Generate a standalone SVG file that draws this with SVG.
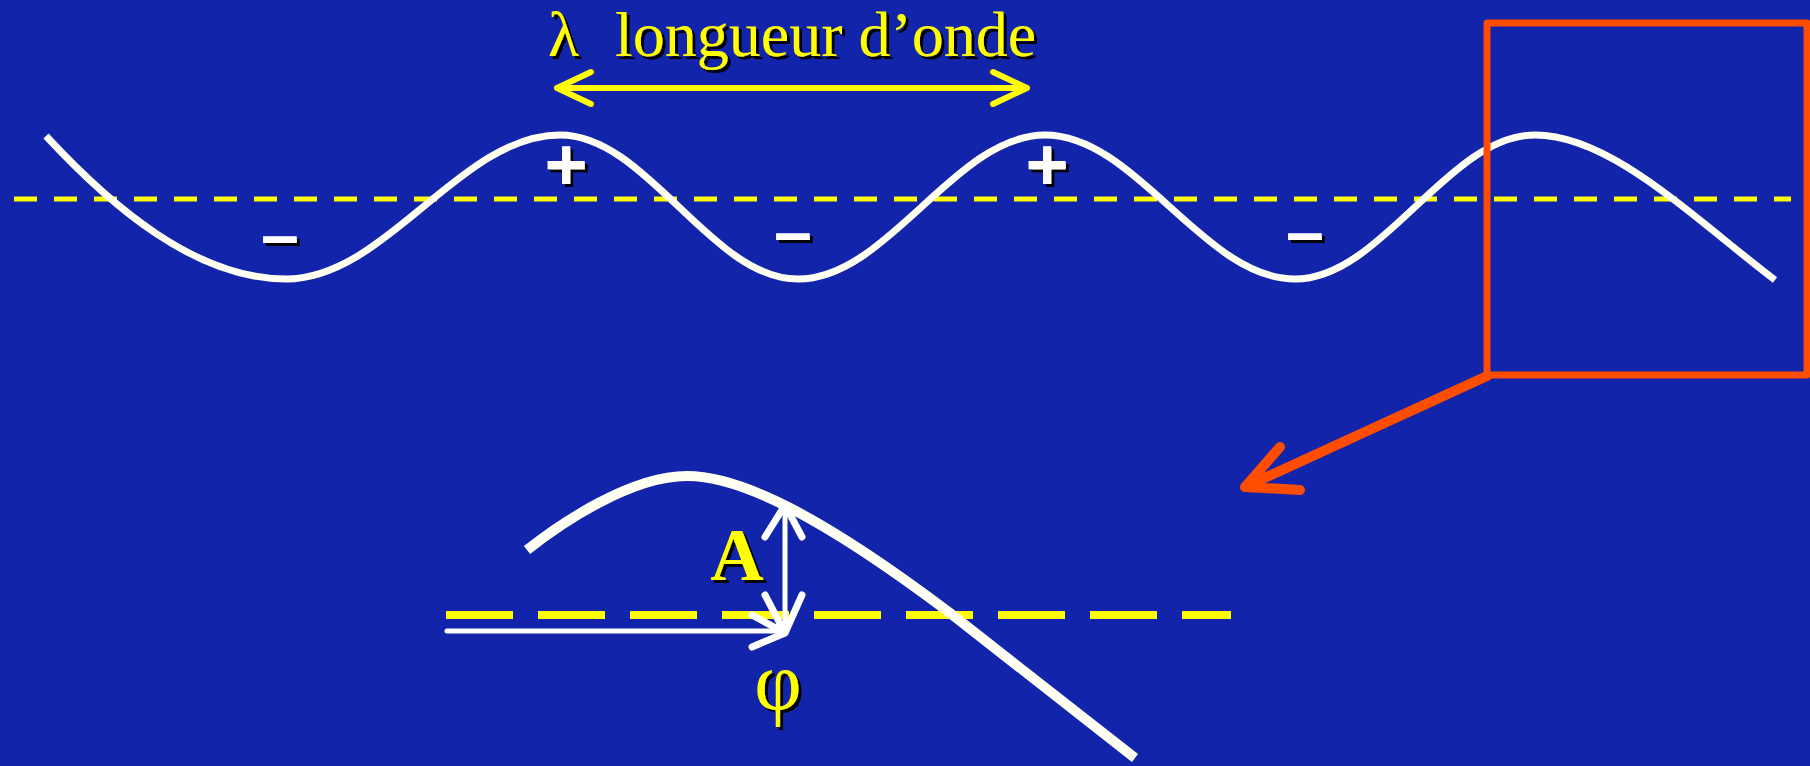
<svg xmlns="http://www.w3.org/2000/svg" width="1810" height="766" viewBox="0 0 1810 766">
<defs>
<style>
.wave{fill:none;stroke:#FFFFF4;stroke-linecap:butt;stroke-linejoin:round}
.axis{fill:none;stroke:#FFFF00}
.yarr{fill:none;stroke:#FFFF00;stroke-width:6;stroke-linecap:round;stroke-linejoin:round}
.warr{fill:none;stroke:#FFFFFF;stroke-linecap:round;stroke-linejoin:round}
.red{fill:none;stroke:#FF4D00;stroke-linecap:round;stroke-linejoin:round}
.ylab{fill:#FFFF00;font-family:"Liberation Serif","Times New Roman",serif}
.sign{fill:#FFFFFF;font-family:"Liberation Sans",Arial,sans-serif;font-weight:bold;text-anchor:middle}
</style>
<filter id="sh" x="-20%" y="-20%" width="140%" height="140%">
<feDropShadow dx="3" dy="3" stdDeviation="0" flood-color="#000000" flood-opacity="1"/>
</filter>
</defs>
<rect x="0" y="0" width="1810" height="766" fill="#1124AA"/>

<g id="top-axis">
<line class="axis" x1="14" y1="199" x2="1791" y2="199" stroke-width="5" stroke-dasharray="23 17"/>
</g>
<g id="top-wave">
<path class="wave" stroke-width="7" d="M46,136 C110,205 195,279 286,279 C386,279 460,135 560,135 C647,135 711,279 798,279 C888,279 955,135 1045,135 C1136,135 1204,279 1295,279 C1382,279 1448,135 1535,135 C1610,135 1690,215 1775,280"/>
</g>
<g id="signs" filter="url(#sh)">
<text class="sign" x="566" y="190" font-size="74">+</text>
<text class="sign" x="1047" y="190" font-size="74">+</text>
<text class="sign" x="280" y="258" font-size="68">–</text>
<text class="sign" x="793" y="255" font-size="68">–</text>
<text class="sign" x="1305" y="255" font-size="68">–</text>
</g>
<g id="wavelength-label" filter="url(#sh)">
<text class="ylab" x="548" y="56" font-size="64">λ</text>
<text class="ylab" x="615" y="56" font-size="64">longueur d’onde</text>
</g>
<g id="zoom-box">
<rect class="red" x="1487" y="23" width="320" height="352" stroke-width="7" stroke-linejoin="miter" stroke-linecap="butt"/>
</g>
<g id="detail-axis">
<line class="axis" x1="446" y1="615" x2="1231" y2="615" stroke-width="8" stroke-dasharray="67 25"/>
</g>
<g id="detail-wave">
<path class="wave" stroke-width="10" d="M527,550 C560,524 630,476 687,476 C740,476 820,515 950,613 L1135,758"/>
</g>
<g id="labels" filter="url(#sh)">
<text class="ylab" x="737" y="580" font-size="74" font-weight="bold" text-anchor="middle">A</text>
<text class="ylab" x="778" y="709" font-size="82" text-anchor="middle">φ</text>
</g>
<g id="connectors">
<path class="yarr" d="M557,88 L1027,88 M591,72 L557,88 L591,104 M993,72 L1027,88 L993,104"/>
<path class="red" stroke-width="10" d="M1487,376 L1245,487 M1280,447 L1245,487 L1300,490"/>
<path class="warr" stroke-width="5" stroke-linecap="butt" d="M447,631 L783,631 M785,506 L785,631"/>
<path class="warr" stroke-width="7" d="M752,615 L785,633 L752,647 M765,537 L785,505 L802,537 M765,595 L785,633 L802,595"/>
</g>
</svg>
